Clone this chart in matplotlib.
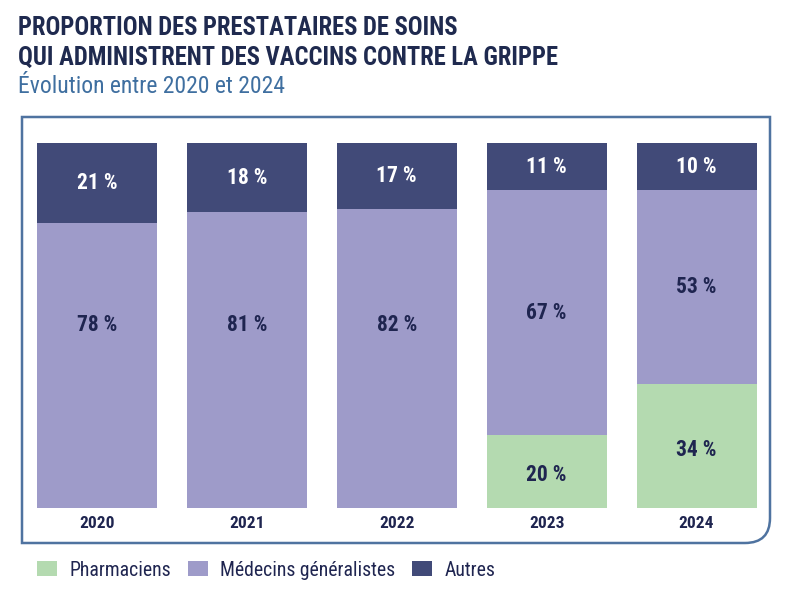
import matplotlib.pyplot as plt
from matplotlib import font_manager
from matplotlib.path import Path
from matplotlib.patches import PathPatch

# pick a narrow font if one is there
installed = {f.name for f in font_manager.fontManager.ttflist}
font = 'DejaVu Sans'
for name in ['Roboto Condensed', 'Liberation Sans Narrow', 'Open Sans Condensed', 'DejaVu Sans Condensed', 'Roboto']:
    if name in installed:
        font = name
        break
plt.rcParams['font.family'] = [font, 'DejaVu Sans']

# Data
years = ['2020', '2021', '2022', '2023', '2024']
pharmaciens = [0, 0, 0, 20, 34]
medecins = [78, 81, 82, 67, 53]
autres = [21, 18, 17, 11, 10]

c_pharm = '#b4dab0'
c_med = '#9e9bc9'
c_autres = '#414a78'
c_text = '#1f2550'
c_frame = '#4f73a0'

fig = plt.figure(figsize=(8, 6), dpi=100)
ax = fig.add_axes([0.0275, 0.095, 0.935, 0.71])

x = range(len(years))
# autres fills up the bar to 100
autres_h = [100 - p - m for p, m in zip(pharmaciens, medecins)]
b1 = ax.bar(x, pharmaciens, width=0.8, color=c_pharm, label='Pharmaciens')
b2 = ax.bar(x, medecins, width=0.8, bottom=pharmaciens, color=c_med, label='Médecins généralistes')
b3 = ax.bar(x, autres_h, width=0.8, bottom=[p + m for p, m in zip(pharmaciens, medecins)],
            color=c_autres, label='Autres')

for i in x:
    p, m, a = pharmaciens[i], medecins[i], autres[i]
    if p > 0:
        ax.text(i, p / 2 - 1, f'{p} %', ha='center', va='center', fontsize=15.5,
                fontweight='bold', color=c_text)
    ax.text(i, max(p + m / 2, 50), f'{m} %', ha='center', va='center', fontsize=15.5,
            fontweight='bold', color=c_text)
    ax.text(i, p + m + autres_h[i] / 2, f'{a} %', ha='center', va='center', fontsize=15.5,
            fontweight='bold', color='white')
    ax.text(i, -4.3, years[i], ha='center', va='center', fontsize=12.5,
            fontweight='bold', color=c_text)

ax.set_xlim(-0.5, 4.49)
ax.set_ylim(-9.6, 107.1)
ax.axis('off')

# frame with rounded bottom-right corner
rx, ry = 25 / 748, 25 / 426
verts = [(0, 1), (1, 1), (1, ry), (1, 0), (1 - rx, 0), (0, 0), (0, 1)]
codes = [Path.MOVETO, Path.LINETO, Path.LINETO, Path.CURVE3, Path.CURVE3, Path.LINETO, Path.CLOSEPOLY]
ax.add_patch(PathPatch(Path(verts, codes), transform=ax.transAxes, facecolor='none',
                       edgecolor=c_frame, linewidth=1.8, clip_on=False))

fig.text(0.0225, 0.953, 'PROPORTION DES PRESTATAIRES DE SOINS', fontsize=17.7,
         fontweight='bold', color='#1f2a4f', va='center')
fig.text(0.0225, 0.903, 'QUI ADMINISTRENT DES VACCINS CONTRE LA GRIPPE', fontsize=17.7,
         fontweight='bold', color='#1f2a4f', va='center')
fig.text(0.0225, 0.856, 'Évolution entre 2020 et 2024', fontsize=17,
         color='#3f6fa0', va='center')

leg = fig.legend(handles=[b1, b2, b3], loc='center left', bbox_to_anchor=(0.024, 0.05),
                 ncol=3, frameon=False, fontsize=14.2, handlelength=1.0, handleheight=0.75,
                 columnspacing=0.85, handletextpad=0.65)
for t in leg.get_texts():
    t.set_color(c_text)

fig.savefig('out.png', dpi=100)
